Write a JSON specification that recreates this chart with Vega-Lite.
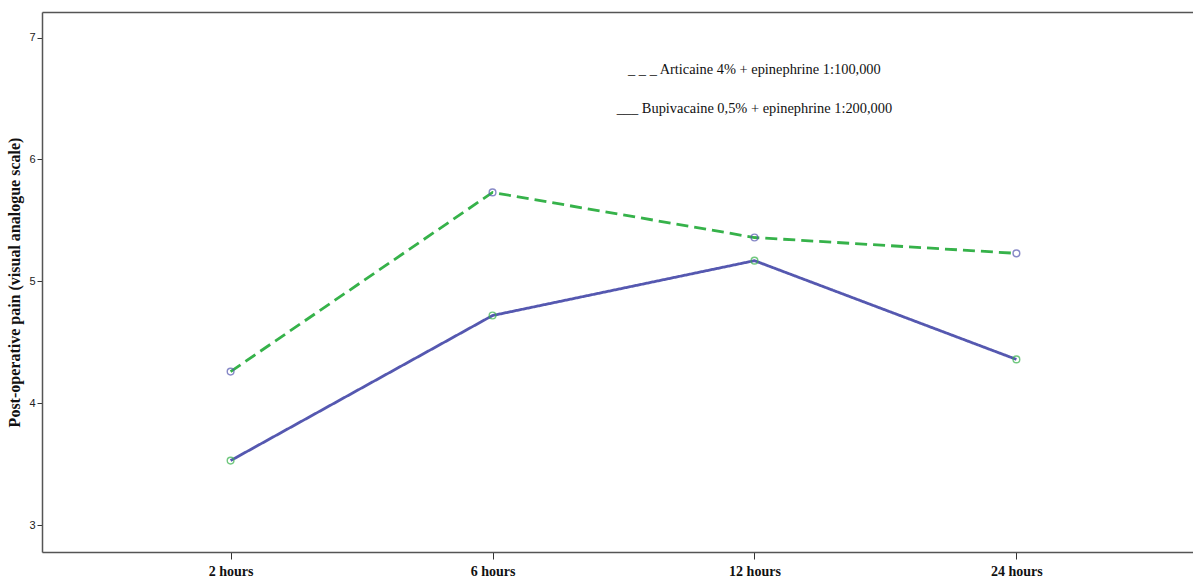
{
  "$schema": "https://vega.github.io/schema/vega-lite/v6.json",
  "autosize": {"type": "none"},
  "padding": {"left": 42, "top": 12, "right": 0, "bottom": 27},
  "width": 1163,
  "height": 540,
  "background": "white",
  "config": {
    "view": {"stroke": null},
    "axis": {"domainColor": "#555555", "domainWidth": 1.5, "tickColor": "#333333", "grid": false}
  },
  "data": {
    "values": [
      {"time": "2 hours", "series": "Articaine", "pain": 4.26},
      {"time": "6 hours", "series": "Articaine", "pain": 5.73},
      {"time": "12 hours", "series": "Articaine", "pain": 5.36},
      {"time": "24 hours", "series": "Articaine", "pain": 5.23},
      {"time": "2 hours", "series": "Bupivacaine", "pain": 3.53},
      {"time": "6 hours", "series": "Bupivacaine", "pain": 4.72},
      {"time": "12 hours", "series": "Bupivacaine", "pain": 5.17},
      {"time": "24 hours", "series": "Bupivacaine", "pain": 4.36}
    ]
  },
  "encoding": {
    "y": {
      "field": "pain", "type": "quantitative",
      "scale": {"domain": [2.78, 7.21], "nice": false, "zero": false},
      "axis": {"title": "Post-operative pain (visual analogue scale)", "titleFont": "Liberation Serif", "titleFontWeight": "bold", "titleFontSize": 16, "titleColor": "#111111", "titlePadding": 6, "values": [3, 4, 5, 6, 7], "labelFont": "Liberation Sans", "labelFontSize": 11, "labelColor": "#222222", "tickSize": 5, "labelPadding": 2}
    }
  },
  "layer": [
    {
      "mark": {"type": "line", "strokeWidth": 2.8},
      "encoding": {
        "x": {
          "field": "time", "type": "ordinal",
          "sort": ["2 hours", "6 hours", "12 hours", "24 hours"],
          "scale": {"type": "point", "padding": 0.72},
          "axis": {"title": null, "labelAngle": 0, "labelFont": "Liberation Serif", "labelFontWeight": "bold", "labelFontSize": 14, "labelColor": "#111111", "tickSize": 7, "labelPadding": 5}
        },
        "color": {
          "field": "series", "type": "nominal",
          "scale": {"domain": ["Articaine", "Bupivacaine"], "range": ["#36b24a", "#5558b0"]},
          "legend": {
            "orient": "none", "legendX": 698, "legendY": 51, "title": null,
            "symbolSize": 0, "symbolOpacity": 0, "symbolStrokeWidth": 0, "labelOffset": 0,
            "labelAlign": "center",
            "labelFont": "Liberation Serif", "labelFontSize": 14.4, "labelColor": "#111111",
            "rowPadding": 24, "labelLimit": 400,
            "labelExpr": "datum.label == 'Articaine' ? '_ _ _ Articaine 4% + epinephrine 1:100,000' : '___ Bupivacaine 0,5% + epinephrine 1:200,000'"
          }
        },
        "strokeDash": {
          "field": "series", "type": "nominal",
          "scale": {"domain": ["Articaine", "Bupivacaine"], "range": [[12, 6], [1, 0]]},
          "legend": null
        }
      }
    },
    {
      "mark": {"type": "point", "shape": "circle", "filled": false, "size": 45, "strokeWidth": 1.4},
      "encoding": {
        "x": {
          "field": "time", "type": "ordinal",
          "sort": ["2 hours", "6 hours", "12 hours", "24 hours"],
          "scale": {"type": "point", "padding": 0.72},
          "axis": {"orient": "top", "title": null, "labels": false, "ticks": false, "domain": true}
        },
        "stroke": {
          "field": "series", "type": "nominal",
          "scale": {"domain": ["Articaine", "Bupivacaine"], "range": ["#5558b0", "#36b24a"]},
          "legend": null
        }
      }
    }
  ],
  "resolve": {"axis": {"x": "independent"}}
}
